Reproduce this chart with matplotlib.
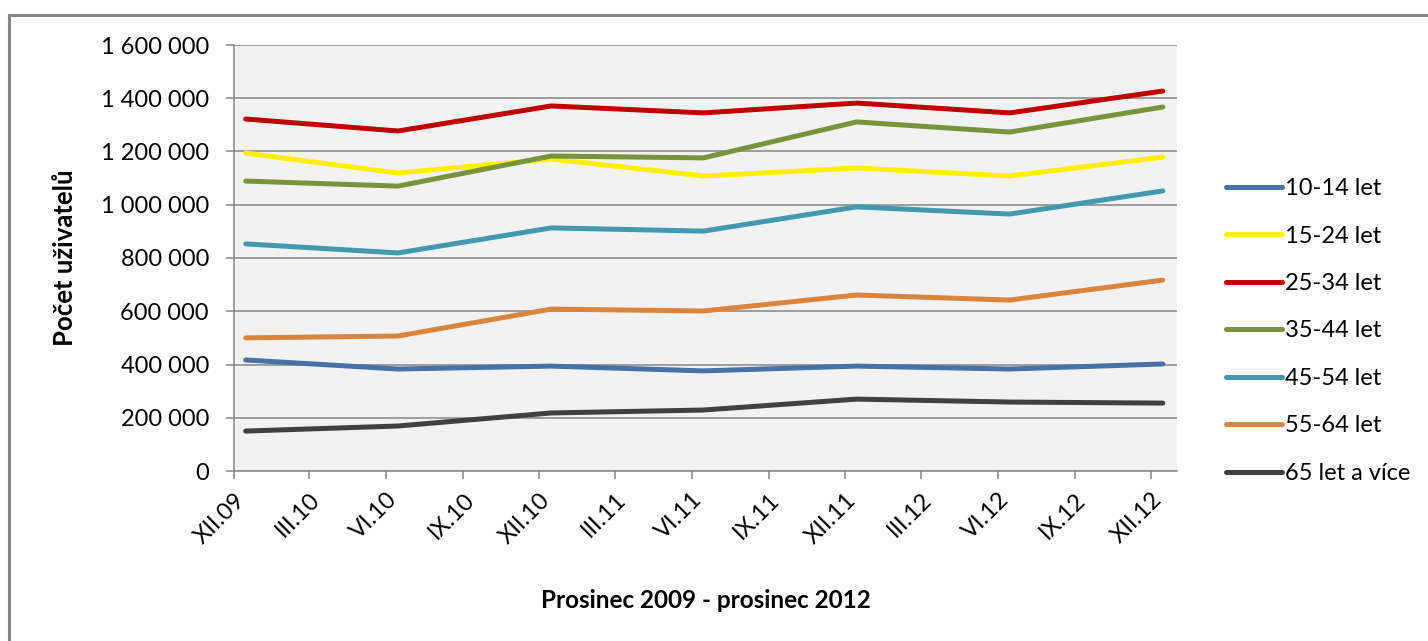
import matplotlib.pyplot as plt
import matplotlib.dates as mdates
import matplotlib.ticker as mticker
import numpy as np
import pandas as pd

plt.rcParams["font.family"] = ["Lato", "DejaVu Sans"]

# pololetní měření, prosinec 2009 - prosinec 2012
dates = pd.to_datetime(["2009-12-15", "2010-06-15", "2010-12-15", "2011-06-15",
                        "2011-12-15", "2012-06-15", "2012-12-15"])

age_10_14 = [417000, 383000, 394000, 376000, 394000, 383000, 402000]
age_15_24 = [1194000, 1119000, 1172000, 1108000, 1138000, 1108000, 1179000]
age_25_34 = [1322000, 1277000, 1371000, 1345000, 1382000, 1345000, 1427000]
age_35_44 = [1089000, 1070000, 1183000, 1176000, 1311000, 1273000, 1367000]
age_45_54 = [853000, 819000, 913000, 901000, 992000, 965000, 1052000]
age_55_64 = [500000, 507000, 608000, 601000, 661000, 642000, 717000]
age_65_plus = [150000, 169000, 218000, 229000, 270000, 259000, 255000]

labels = ["10-14 let", "15-24 let", "25-34 let", "35-44 let",
          "45-54 let", "55-64 let", "65 let a více"]
colors = ["#4572a7", "#fff000", "#c00000", "#77933c", "#4198af", "#db843d", "#404040"]
series = [age_10_14, age_15_24, age_25_34, age_35_44, age_45_54, age_55_64, age_65_plus]

tick_dates = pd.date_range("2009-12-01", "2012-12-01", freq="3MS")
tick_labels = ["XII.09", "III.10", "VI.10", "IX.10", "XII.10", "III.11", "VI.11",
               "IX.11", "XII.11", "III.12", "VI.12", "IX.12", "XII.12"]

fig = plt.figure(figsize=(14.28, 6.41), dpi=100)
ax = fig.add_axes([234 / 1428, 1 - 471 / 641, 943 / 1428, 426 / 641])
ax.set_facecolor("#f2f2f2")

for vals, lab, col in zip(series, labels, colors):
    ax.plot(dates, vals, color=col, lw=3.6, label=lab,
            solid_capstyle="round", solid_joinstyle="miter")

ax.set_ylim(0, 1600000)
ax.yaxis.set_major_locator(mticker.MultipleLocator(200000))
ax.yaxis.set_major_formatter(mticker.FuncFormatter(lambda v, p: f"{int(v):,}".replace(",", " ")))
ax.grid(axis="y", color="#868686", lw=1.1)
ax.set_axisbelow(True)

ax.set_xlim(pd.Timestamp("2009-12-01"), pd.Timestamp("2013-01-01"))
ax.set_xticks(tick_dates)
ax.set_xticklabels(tick_labels, rotation=45, ha="right", va="top", rotation_mode="anchor")

for s in ["top", "right"]:
    ax.spines[s].set_visible(False)
for s in ["left", "bottom"]:
    ax.spines[s].set_color("#868686")
    ax.spines[s].set_linewidth(1.1)

ax.tick_params(axis="y", length=6, width=1.1, color="#868686", labelsize=17, pad=12)
ax.tick_params(axis="x", length=6, width=1.1, color="#868686", labelsize=17, pad=7)

ax.set_ylabel("Počet uživatelů", fontsize=18.5, fontweight="bold")
ax.yaxis.set_label_coords(-0.166, 0.5)
ax.set_xlabel("Prosinec 2009 - prosinec 2012", fontsize=17.5, fontweight="bold", va="center")
ax.xaxis.set_label_coords(0.5, -0.303)

fig.legend(loc="center left", bbox_to_anchor=(1205 / 1428, 1 - 331 / 641), frameon=False,
           fontsize=17, handlelength=2.35, handletextpad=0.15, labelspacing=1.12)

# rámeček grafu
fig.add_artist(plt.Line2D([9 / 1428, 1], [1 - 15 / 641, 1 - 15 / 641], color="#868686", lw=2.2))
fig.add_artist(plt.Line2D([9 / 1428, 9 / 1428], [0, 1 - 15 / 641], color="#868686", lw=2.2))

fig.savefig("out.png", dpi=100)
